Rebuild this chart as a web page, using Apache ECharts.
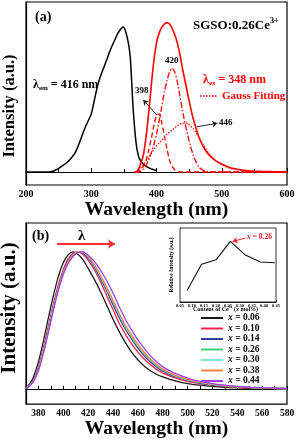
<!DOCTYPE html>
<html><head><meta charset="utf-8">
<script src="https://cdn.jsdelivr.net/npm/echarts@6/dist/echarts.min.js"></script>
<style>html,body{margin:0;padding:0;background:#fff}#c{width:298px;height:440px}</style>
</head><body><div id="c"></div>
<script>
// ---------- Panel (a) ----------
const excWl = [200,210,220,230,240,245,250,255,260,265,270,275,280,285,290,295,300,305,310,315,320,325,330,335,340,345,349,352,355,358,360,362,364,366,368,370,373,377,382,390,400];
const excI  = [0,0,0,0,0.004,0.012,0.025,0.04,0.055,0.075,0.1,0.13,0.18,0.24,0.3,0.35,0.4,0.5,0.6,0.67,0.73,0.79,0.85,0.9,0.95,0.985,1.0,0.98,0.93,0.86,0.78,0.62,0.45,0.33,0.23,0.16,0.1,0.07,0.045,0.025,0.01];
const emWl  = [366,370,373,376,380,385,390,395,400,405,410,416,420,425,430,435,440,445,450,455,460,465,470,475,480,490,500,510,520,530,540,550,560,570,580,590,600];
const emI   = [0,0.005,0.025,0.06,0.12,0.28,0.5,0.73,0.89,0.97,1.01,1.03,1.02,0.98,0.92,0.83,0.71,0.6,0.49,0.39,0.31,0.24,0.19,0.15,0.12,0.08,0.055,0.035,0.022,0.014,0.009,0.006,0.004,0.003,0.002,0.001,0.001];
const fitWl = [368,372,376,380,384,388,392,396,400,404,408,412,416,420,424,428,432,436,440,444,448,452,456,460,465,470,475,480,490,500,510,520,530,540,550,560,570,580,590,600];
const g398  = [0,0.005,0.015,0.04,0.08,0.15,0.23,0.32,0.39,0.4,0.34,0.25,0.16,0.08,0.04,0.015,0.005,0,0,0,0,0,0,0,0,0,0,0,0,0,0,0,0,0,0,0,0,0,0,0];
const g420  = [0,0,0.005,0.02,0.045,0.08,0.13,0.19,0.26,0.35,0.45,0.55,0.63,0.69,0.715,0.69,0.62,0.52,0.42,0.33,0.25,0.18,0.12,0.075,0.035,0.015,0.005,0,0,0,0,0,0,0,0,0,0,0,0,0];
const g446  = [0,0.01,0.03,0.05,0.075,0.1,0.13,0.155,0.18,0.2,0.22,0.24,0.26,0.275,0.29,0.305,0.32,0.33,0.335,0.337,0.335,0.32,0.3,0.275,0.24,0.2,0.165,0.13,0.08,0.05,0.03,0.018,0.01,0.005,0.002,0,0,0,0,0];
const aTicks = {min:200, max:600, step:100};

// ---------- Panel (b) ----------
const bWl = [370,373,376,380,384,388,392,396,400,404,408,412,416,420,425,430,435,440,445,450,455,460,465,470,475,480,485,490,500,510,520,530,540,550,560,570,580];
const concLabels = ['0.06','0.10','0.14','0.26','0.30','0.38','0.44'];
const x006 = [0.01,0.04,0.09,0.2,0.35,0.52,0.68,0.82,0.92,0.98,1.0,0.98,0.94,0.88,0.8,0.71,0.61,0.51,0.42,0.34,0.27,0.215,0.17,0.135,0.11,0.09,0.075,0.062,0.042,0.03,0.021,0.015,0.011,0.008,0.006,0.004,0.003];
const x010 = [0.007,0.03,0.07,0.16,0.3,0.46,0.62,0.76,0.87,0.95,0.99,1.0,0.98,0.94,0.87,0.78,0.68,0.58,0.48,0.4,0.33,0.27,0.22,0.18,0.145,0.12,0.1,0.084,0.058,0.042,0.03,0.021,0.015,0.011,0.008,0.006,0.004];
const x014 = [0.006,0.028,0.065,0.15,0.285,0.44,0.6,0.74,0.855,0.935,0.98,1.0,0.99,0.955,0.89,0.805,0.715,0.615,0.52,0.435,0.365,0.3,0.245,0.2,0.163,0.133,0.11,0.092,0.065,0.046,0.033,0.024,0.017,0.012,0.009,0.006,0.005];
const x026 = [0.006,0.027,0.062,0.145,0.278,0.432,0.592,0.733,0.848,0.93,0.977,0.998,0.996,0.962,0.9,0.82,0.73,0.635,0.54,0.452,0.38,0.315,0.26,0.212,0.174,0.142,0.117,0.098,0.069,0.05,0.036,0.026,0.019,0.013,0.01,0.007,0.005];
const x030 = [0.006,0.026,0.06,0.142,0.274,0.428,0.588,0.73,0.846,0.928,0.976,0.998,0.998,0.966,0.905,0.826,0.737,0.643,0.548,0.46,0.387,0.322,0.266,0.217,0.178,0.146,0.12,0.1,0.071,0.051,0.037,0.027,0.019,0.014,0.01,0.007,0.005];
const x038 = [0.006,0.026,0.06,0.14,0.27,0.424,0.584,0.726,0.843,0.926,0.975,0.998,0.999,0.968,0.908,0.83,0.742,0.648,0.553,0.466,0.392,0.327,0.27,0.221,0.181,0.149,0.123,0.103,0.073,0.053,0.038,0.028,0.02,0.014,0.01,0.007,0.005];
const x044 = [0.005,0.025,0.058,0.135,0.262,0.415,0.575,0.718,0.835,0.918,0.968,0.995,1.0,0.975,0.93,0.865,0.79,0.7,0.6,0.51,0.43,0.36,0.3,0.245,0.2,0.165,0.138,0.116,0.082,0.058,0.042,0.03,0.022,0.016,0.012,0.009,0.007];
const bSeries = [x006,x010,x014,x026,x030,x038,x044];

// ---------- Inset ----------
const insetX = [0.08,0.14,0.20,0.26,0.32,0.385,0.445];
const insetY = [0.16,0.51,0.57,0.82,0.64,0.54,0.53];

// ---------- rendering ----------
const FF = '"Liberation Serif","Times New Roman",serif';
const bColors = ['#1a1a1a','#ff1f4f','#2f3fa0','#3fd080','#80e8d8','#ff7f3f','#9a3ff0'];
const zip = (xs, ys) => xs.map((x, i) => [x, ys[i]]);
const cv = document.createElement('canvas').getContext('2d');
function run(x, y, segs, color) {
  let cx = x; const out = [];
  segs.forEach(s => {
    const font = (s.italic ? 'italic ' : '') + 'bold ' + s.size + 'px ' + FF;
    cv.font = font;
    const w = cv.measureText(s.t).width;
    out.push({type:'text', x: cx, y: y + (s.dy || 0), silent:true,
      style:{text:s.t, font:font, fill:s.color || color || '#000', align:'left', textAlign:'left', verticalAlign:'middle', textVerticalAlign:'middle'}});
    cx += w;
  });
  return out;
}
function vtext(x, y, t, size) {
  const font = 'bold ' + size + 'px ' + FF;
  return {type:'text', x:x, y:y, rotation:Math.PI/2, silent:true,
    style:{text:t, font:font, fill:'#000', align:'center', textAlign:'center', verticalAlign:'middle', textVerticalAlign:'middle'}};
}

const graphics = [].concat(
  [vtext(10, 106, 'Intensity (a.u.)', 16.5), vtext(10, 308, 'Intensity (a.u.)', 21)],
  run(35, 17, [{t:'(a)', size:14}]),
  run(193, 26, [{t:'SGSO:0.26Ce', size:13}]),
  run(33, 85, [{t:'λ', size:12}, {t:'em', size:7, dy:3}, {t:' = 416 nm', size:12}]),
  run(203, 80, [{t:'λ', size:12}, {t:'ex', size:7, dy:3}, {t:' = 348 nm', size:12}], '#ff0000'),
  run(222, 96, [{t:'Gauss Fitting', size:11}], '#ff0000'),
  run(135, 91, [{t:'398', size:9}]),
  run(165, 61, [{t:'420', size:9}]),
  run(219, 123, [{t:'446', size:9}]),
  run(32, 236, [{t:'(b)', size:14}]),
  run(78, 236, [{t:'λ', size:15}]),
  run(247, 237, [{t:'x', size:7.5, italic:true}, {t:' = 0.26', size:7.5}], '#ff1f2f'),
  run(193, 309.5, [{t:'Content of Ce', size:6}, {t:'3+', size:3.5, dy:-2}, {t:' (', size:6}, {t:'x', size:6, italic:true}, {t:' mol%)', size:6}]),
  [vtext(172, 265, 'Relative Intensity (a.u.)', 5.5)],
  [{type:'line', silent:true, shape:{x1:200, y1:96, x2:218, y2:96}, style:{stroke:'#ff0000', lineWidth:1.3, lineDash:[1.5,1.5]}}]
);
cv.font = 'bold 13px ' + FF;
const sgW = cv.measureText('SGSO:0.26Ce').width;
graphics.push(...run(193 + sgW, 21, [{t:'3+', size:8}]));

const axisFont = {fontFamily:FF, fontWeight:'bold', color:'#000'};
const arrowML = (pts, color) => ({silent:true, symbol:['none','arrow'], symbolSize:5, label:{show:false},
  lineStyle:{color:color, width:1, type:'solid'}, data: pts.map(p => [{coord:p[0]}, {coord:p[1]}]), animation:false});

const option = {
  animation:false,
  grid:[
    {left:26, right:11, top:2, height:183, show:true, borderColor:'#000', borderWidth:1.2},
    {left:26, right:11, top:223, height:184, show:true, borderColor:'#000', borderWidth:1.2},
    {left:180, top:228, width:96, height:74, show:true, borderColor:'#000', borderWidth:0.8, backgroundColor:'#fff', z:5}
  ],
  xAxis:[
    {type:'value', gridIndex:0, min:aTicks.min, max:aTicks.max, interval:aTicks.step,
     axisLine:{lineStyle:{color:'#000', width:1.2}}, axisTick:{inside:true, length:4, lineStyle:{color:'#000'}},
     minorTick:{show:true, splitNumber:2, length:3, lineStyle:{color:'#000'}}, splitLine:{show:false},
     axisLabel:Object.assign({fontSize:10, margin:4}, axisFont),
     name:'Wavelength (nm)', nameLocation:'middle', nameGap:12, nameTextStyle:Object.assign({fontSize:19.5}, axisFont)},
    {type:'value', gridIndex:1, min:370, max:580, interval:10,
     axisLine:{lineStyle:{color:'#000', width:1.2}}, axisTick:{inside:true, length:3.5, lineStyle:{color:'#000'}},
     splitLine:{show:false},
     axisLabel:Object.assign({fontSize:9.5, margin:4, formatter: v => (v % 20 === 0 ? String(v) : '')}, axisFont),
     name:'Wavelength (nm)', nameLocation:'middle', nameGap:11, nameTextStyle:Object.assign({fontSize:19.5}, axisFont)},
    {type:'value', gridIndex:2, min:0.05, max:0.45, interval:0.05,
     axisLine:{lineStyle:{color:'#000', width:0.8}}, axisTick:{inside:true, length:2, lineStyle:{color:'#000', width:0.6}},
     splitLine:{show:false},
     axisLabel:Object.assign({fontSize:4.5, margin:1.5, formatter: v => v.toFixed(2)}, axisFont)}
  ],
  yAxis:[
    {type:'value', gridIndex:0, min:-0.0897, max:1.1724, axisLine:{lineStyle:{color:'#000', width:1.2}},
     axisTick:{show:false}, axisLabel:{show:false}, splitLine:{show:false}},
    {type:'value', gridIndex:1, min:-0.1074, max:1.2097, axisLine:{lineStyle:{color:'#000', width:1.2}},
     axisTick:{show:false}, axisLabel:{show:false}, splitLine:{show:false}},
    {type:'value', gridIndex:2, min:0, max:1, interval:0.2, axisLine:{lineStyle:{color:'#000', width:0.8}},
     axisTick:{inside:true, length:2, lineStyle:{color:'#000', width:0.6}}, axisLabel:{show:false}, splitLine:{show:false}}
  ],
  legend:{
    data:concLabels, orient:'vertical', left:200, top:313, padding:0, itemWidth:22, itemHeight:8, itemGap:0.5,
    itemStyle:{opacity:0}, lineStyle:{width:2},
    textStyle:{fontFamily:FF, fontWeight:'bold', fontSize:9.5, color:'#000', lineHeight:10},
    rich:undefined,
    formatter: n => '{i|x} = ' + n
  },
  series:[
    {type:'line', name:'exc', xAxisIndex:0, yAxisIndex:0, data:zip(excWl, excI), symbol:'none', smooth:0.25,
     lineStyle:{color:'#000', width:1.5}},
    {type:'line', name:'em', xAxisIndex:0, yAxisIndex:0, data:zip(emWl, emI), symbol:'none', smooth:0.25,
     lineStyle:{color:'#ff0000', width:1.6}},
    {type:'line', name:'g398', xAxisIndex:0, yAxisIndex:0, data:zip(fitWl, g398), symbol:'none', smooth:0.25,
     lineStyle:{color:'#ff0000', width:1.3, type:[5,3]},
     markLine:arrowML([[[400.3,0.393],[379.8,0.497]], [[461.6,0.312],[493.2,0.336]]], '#222')},
    {type:'line', name:'g420', xAxisIndex:0, yAxisIndex:0, data:zip(fitWl, g420), symbol:'none', smooth:0.25,
     lineStyle:{color:'#ff0000', width:1.3, type:[6,2,1.5,2]}},
    {type:'line', name:'g446', xAxisIndex:0, yAxisIndex:0, data:zip(fitWl, g446), symbol:'none', smooth:0.25,
     lineStyle:{color:'#ff0000', width:1.2, type:[1.5,1.5]}},
  ].concat(bSeries.map((arr, i) => ({
    type:'line', name:concLabels[i], xAxisIndex:1, yAxisIndex:1, data:zip(bWl, arr), symbol:'none', smooth:0.25,
    color:bColors[i], lineStyle:{color:bColors[i], width:1.3},
    markLine: i === 0 ? arrowML([[[395,1.057],[441.6,1.057]]], '#ff2a3a') : undefined
  }))).concat([
    {type:'line', name:'inset', xAxisIndex:2, yAxisIndex:2, data:zip(insetX, insetY), symbol:'none', z:6,
     lineStyle:{color:'#111', width:1.1},
     markLine:arrowML([[[0.3237,0.865],[0.269,0.818]]], '#ff1f2f')}
  ]),
  graphic:{elements:graphics.map(g => Object.assign({z:100}, g))}
};
option.legend.textStyle.rich = {i:{fontFamily:FF, fontWeight:'bold', fontStyle:'italic', fontSize:9.5, color:'#000', lineHeight:10}};
delete option.legend.rich;
option.series[5].markLine.lineStyle.width = 2;
option.series[5].markLine.symbolSize = 7;
const chart = echarts.init(document.getElementById('c'), null, {renderer:'canvas'});
chart.setOption(option);
</script></body></html>
